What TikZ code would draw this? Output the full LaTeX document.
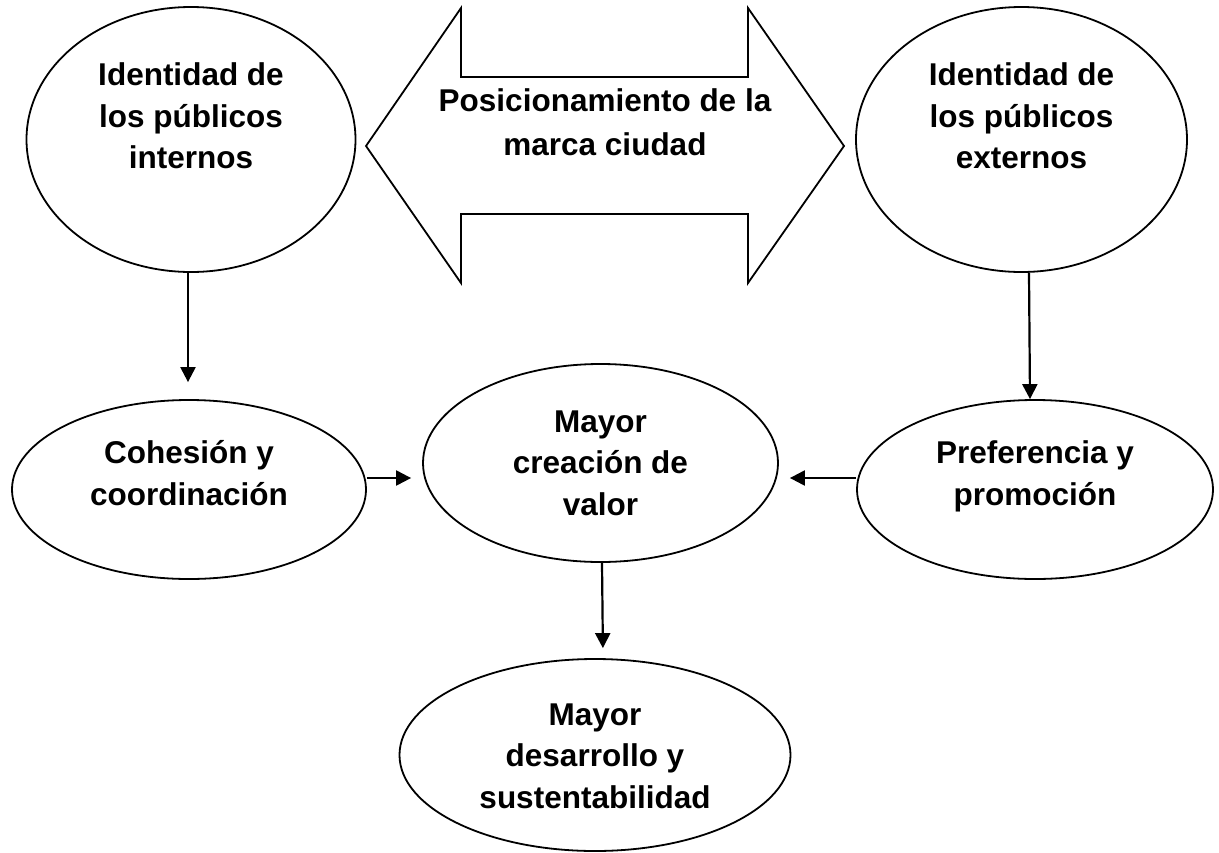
\documentclass[tikz,border=0pt]{standalone}
\usepackage{fontspec}
\setmainfont{Liberation Sans}
\usetikzlibrary{shapes.geometric,arrows.meta}
\begin{document}
\begin{tikzpicture}[x=1pt,y=-1pt,
  oval/.style={draw=black, line width=1.8pt, ellipse, inner sep=0pt},
  txt/.style={align=center, inner sep=0pt, anchor=base, font=\fontsize{31.5}{41.5}\selectfont\bfseries},
  arrtxt/.style={align=center, inner sep=0pt, anchor=base, font=\fontsize{31.5}{44}\selectfont\bfseries},
  conn/.style={draw=black, line width=2.2pt, -{Triangle[width=15pt,length=15pt]}}]
\useasboundingbox (0,0) rectangle (1219,852);
\fill[white] (0,0) rectangle (1219,852);
% ellipses
\node[oval, minimum width=329pt, minimum height=265pt] (iint) at (191,139.5) {};
\node[oval, minimum width=331pt, minimum height=265pt] (iext) at (1021.5,139.5) {};
\node[oval, minimum width=354pt, minimum height=179pt] (coh) at (189,489.5) {};
\node[oval, minimum width=355pt, minimum height=198pt] (val) at (600.5,463) {};
\node[oval, minimum width=356pt, minimum height=179pt] (pref) at (1035,489.5) {};
\node[oval, minimum width=391pt, minimum height=192pt] (sust) at (595,755) {};
% double arrow
\draw[line width=1.8pt, line join=miter] (366,146) -- (461,8) -- (461,77) -- (748,77) -- (748,8)
  -- (844,146) -- (748,283) -- (748,214) -- (461,214) -- (461,283) -- cycle;
% texts
\node[txt] (tiint) at (191,168.5) {Identidad de\\los públicos\\internos};
\node[txt] (tiext) at (1021.5,168.5) {Identidad de\\los públicos\\externos};
\node[arrtxt] (tpos) at (605,155.5) {Posicionamiento de la\\marca ciudad};
\node[txt] (tcoh) at (189,505) {Cohesión y\\coordinación};
\node[txt] (tval) at (600.5,515) {Mayor\\creación de\\valor};
\node[txt] (tpref) at (1035,505) {Preferencia y\\promoción};
\node[txt] (tsust) at (595,808) {Mayor\\desarrollo y\\sustentabilidad};
% connectors
\draw[conn, shorten >=17pt] ([xshift=-3pt]iint.south) -- ([xshift=-1pt]coh.north);
\draw[conn] ([xshift=7.5pt]iext.south) -- ([xshift=-5pt]pref.north);
\draw[conn, shorten >=11pt] ([yshift=11.5pt]coh.east) -- ([yshift=-15pt]val.west);
\draw[conn, shorten >=11pt] ([yshift=11.5pt]pref.west) -- ([yshift=-15pt]val.east);
\draw[conn, shorten >=10pt] ([xshift=1.5pt]val.south) -- ([xshift=8pt]sust.north);
\end{tikzpicture}
\end{document}
